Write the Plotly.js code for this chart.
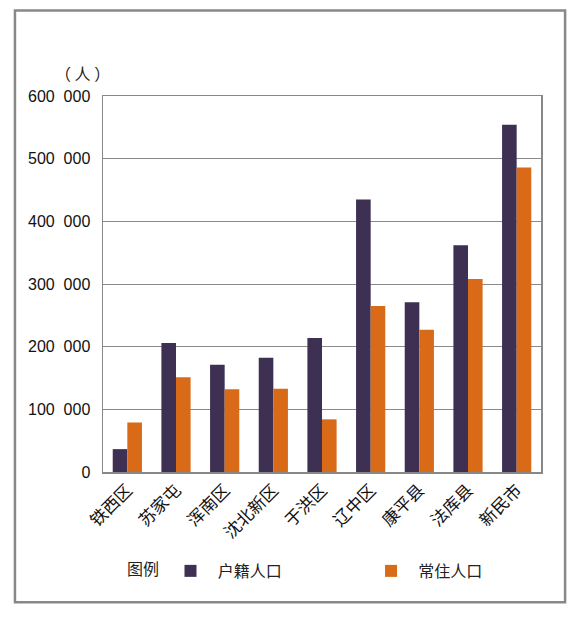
<!DOCTYPE html>
<html>
<head>
<meta charset="utf-8">
<script src="https://cdn.plot.ly/plotly-3.0.1.min.js"></script>
<style>
html,body{margin:0;padding:0;background:#fff;}
#chart{width:580px;height:618px;}
</style>
</head>
<body>
<div id="chart"></div>
<script>
const categories = ["铁西区","苏家屯","浑南区","沈北新区","于洪区","辽中区","康平县","法库县","新民市"];
const huji = [36500, 206000, 171000, 182500, 214000, 435000, 271000, 362000, 554000];
const changzhu = [79000, 151000, 132000, 133000, 84000, 265000, 227000, 308000, 486000];
const seriesNames = ["户籍人口","常住人口"];
const yTickVals = [0,100000,200000,300000,400000,500000,600000];
const yTickText = ["0","100\u00a0\u00a0000","200\u00a0\u00a0000","300\u00a0\u00a0000","400\u00a0\u00a0000","500\u00a0\u00a0000","600\u00a0\u00a0000"];

const cjk = '"Noto Sans CJK SC", "Noto Sans", sans-serif';
const num = '"Liberation Sans", Arial, sans-serif';

const traces = [
  {type:'bar', name:'\u00a0\u00a0' + seriesNames[0], x:categories, y:huji, marker:{color:'#3d3052'}, legend:'legend'},
  {type:'bar', name:'\u00a0\u00a0' + seriesNames[1], x:categories, y:changzhu, marker:{color:'#d96a17'}, legend:'legend2'}
];

const legFont = {family:cjk, size:16, color:'#222'};
const layout = {
  width:580, height:618,
  margin:{l:103, r:39, t:96, b:146},
  paper_bgcolor:'#fff', plot_bgcolor:'#fff',
  barmode:'group', bargap:0.4, bargroupgap:0,
  showlegend:true,
  legend:{orientation:'h', x:0.05, xanchor:'left', y:-0.218, yanchor:'top',
    font:legFont, title:{text:'图例\u00a0', side:'left', font:legFont}, bgcolor:'rgba(0,0,0,0)'},
  legend2:{orientation:'h', x:0.612, xanchor:'left', y:-0.218, yanchor:'top',
    font:legFont, bgcolor:'rgba(0,0,0,0)'},
  xaxis:{type:'category', tickangle:-45, tickfont:{family:cjk, size:17, color:'#111'},
    showline:true, linecolor:'#888', linewidth:1.5, mirror:true, showgrid:false, ticks:'', fixedrange:true},
  yaxis:{range:[0,600000], tickvals:yTickVals, ticktext:yTickText,
    tickfont:{family:num, size:16, color:'#111'}, showgrid:true, gridcolor:'#8a8a8a', gridwidth:1,
    showline:true, linecolor:'#888', linewidth:1.5, mirror:true, ticks:'', ticklabelstandoff:8,
    zeroline:false, fixedrange:true},
  annotations:[
    {text:'（\u00a0人\u00a0）', xref:'paper', yref:'paper', x:-0.046, y:1.025, xanchor:'center', yanchor:'bottom',
     showarrow:false, font:{family:cjk, size:16, color:'#222'}}
  ],
  shapes:[
    {type:'rect', xref:'paper', yref:'paper', x0:-0.201, x1:1.055, y0:-0.3466, y1:1.2275,
     line:{color:'#888', width:2.5}, fillcolor:'rgba(0,0,0,0)', layer:'below'}
  ]
};

Plotly.newPlot('chart', traces, layout, {displayModeBar:false, staticPlot:true});
</script>
</body>
</html>
